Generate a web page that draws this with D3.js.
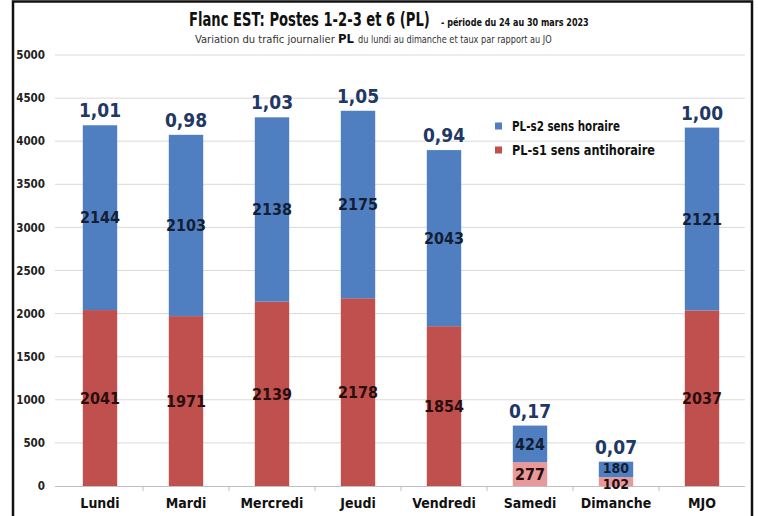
<!DOCTYPE html>
<html><head><meta charset="utf-8">
<script src="https://cdn.jsdelivr.net/npm/d3@7"></script>
<style>
body{margin:0;background:#fff;}
svg{display:block;}
</style></head>
<body>
<svg id="c" width="758" height="516"></svg>
<script>
const categories = ["Lundi","Mardi","Mercredi","Jeudi","Vendredi","Samedi","Dimanche","MJO"];
const s1Values = [2041,1971,2139,2178,1854,277,102,2037];   // PL-s1 sens antihoraire
const s2Values = [2144,2103,2138,2175,2043,424,180,2121];   // PL-s2 sens horaire
const ratioLabels = ["1,01","0,98","1,03","1,05","0,94","0,17","0,07","1,00"];
const yTicks = [0,500,1000,1500,2000,2500,3000,3500,4000,4500,5000];
const weekendCats = ["Samedi","Dimanche"];

const svg = d3.select("#c");
const F = "'DejaVu Sans Condensed','Liberation Sans Narrow',sans-serif";
const blue = "#4f7fc1", red = "#c0504d", lightRed = "#e79a99";

// frame
svg.append("rect").attr("x",13).attr("y",1.5).attr("width",739).attr("height",530)
  .attr("fill","none").attr("stroke","#111").attr("stroke-width",2.5);

const x = d3.scaleBand().domain(categories).range([57,745]).paddingInner(0.6).paddingOuter(0.3);
const y = d3.scaleLinear().domain([0,5000]).range([486,55]);

// gridlines
svg.append("g").selectAll("line").data(yTicks.filter(d=>d>0)).join("line")
  .attr("x1",55).attr("x2",745).attr("y1",d=>y(d)).attr("y2",d=>y(d))
  .attr("stroke","#d9d9d9").attr("stroke-width",1);

// y axis labels
const yAxis = d3.axisLeft(y).tickValues(yTicks).tickFormat(d3.format("d")).tickSize(0).tickPadding(0);
const gy = svg.append("g").attr("transform","translate(45,0)").call(yAxis);
gy.select(".domain").remove();
gy.selectAll("text").attr("font-family",F).attr("font-size",11.5).attr("font-weight","bold").attr("fill","#222");

// x axis
const gx = svg.append("g").attr("transform","translate(0,486)")
  .call(d3.axisBottom(x).tickSize(0).tickPadding(12));
gx.select(".domain").attr("stroke","#bfbfbf").attr("d","M55,0.5H745");
gx.selectAll("text").attr("font-family",F).attr("font-size",14).attr("font-weight","bold").attr("fill","#111");
// boundary ticks
const step = x.step();
const bounds = d3.range(1,categories.length).map(i=>x(categories[i]) - x.paddingInner()*step/2);
svg.append("g").selectAll("line").data(bounds).join("line")
  .attr("x1",d=>d).attr("x2",d=>d).attr("y1",486).attr("y2",491).attr("stroke","#bfbfbf");

const data = categories.map((c,i)=>({c, s1:s1Values[i], s2:s2Values[i], r:ratioLabels[i]}));

// bars
const g = svg.append("g");
g.selectAll("rect.s1").data(data).join("rect").attr("class","s1")
  .attr("x",d=>x(d.c)).attr("width",x.bandwidth())
  .attr("y",d=>y(d.s1)).attr("height",d=>y(0)-y(d.s1))
  .attr("fill",d=>weekendCats.includes(d.c)?lightRed:red);
g.selectAll("rect.s2").data(data).join("rect").attr("class","s2")
  .attr("x",d=>x(d.c)).attr("width",x.bandwidth())
  .attr("y",d=>y(d.s1+d.s2)).attr("height",d=>y(d.s1)-y(d.s1+d.s2))
  .attr("fill",blue);

// value labels (small segments: nudge apart slightly as the reference does)
const cx = d=>x(d.c)+x.bandwidth()/2;
const small = d=>d.s1+d.s2<400;
g.selectAll("text.v2").data(data).join("text")
  .attr("x",cx).attr("y",d=>(y(d.s1)+y(d.s1+d.s2))/2 - (small(d)?1:0)).attr("dy","0.36em")
  .attr("text-anchor","middle").attr("font-family",F).attr("font-size",d=>small(d)?14:16).attr("font-weight","bold")
  .attr("fill","#141e33").text(d=>d.s2);
g.selectAll("text.v1").data(data).join("text")
  .attr("x",cx).attr("y",d=>(y(0)+y(d.s1))/2 + (small(d)?2:0)).attr("dy","0.36em")
  .attr("text-anchor","middle").attr("font-family",F).attr("font-size",d=>small(d)?14:16).attr("font-weight","bold")
  .attr("fill","#2a0d0d").text(d=>d.s1);
// ratio labels
g.selectAll("text.r").data(data).join("text")
  .attr("x",cx).attr("y",d=>y(d.s1+d.s2)-8)
  .attr("text-anchor","middle").attr("font-family",F).attr("font-size",19).attr("font-weight","bold")
  .attr("fill","#1f3864").text(d=>d.r);

// legend
const leg = [{t:"PL-s2 sens horaire",c:blue,w:108},{t:"PL-s1 sens antihoraire",c:red,w:143}];
const lg = svg.append("g").selectAll("g").data(leg).join("g")
  .attr("transform",(d,i)=>`translate(495,${126+i*24})`);
lg.append("rect").attr("x",0).attr("y",-3.5).attr("width",7).attr("height",7).attr("fill",d=>d.c);
lg.append("text").attr("x",17).attr("y",0).attr("dy","0.36em").attr("font-family",F)
  .attr("font-size",14).attr("font-weight","bold").attr("fill","#111")
  .attr("textLength",d=>d.w).attr("lengthAdjust","spacingAndGlyphs").text(d=>d.t);

// titles: horizontally scaled to the reference widths
function fitText(txt, x0, y0, w, size, weight, fill){
  const t = svg.append("text").attr("x",0).attr("y",0).attr("font-family",F)
    .attr("font-size",size).attr("font-weight",weight).attr("fill",fill).text(txt);
  const nat = t.node().getComputedTextLength();
  t.attr("transform",`translate(${x0},${y0}) scale(${w/nat},1)`);
}
fitText("Flanc EST: Postes 1-2-3 et 6 (PL)",189,26,241,20,600,"#111");
fitText("- période du 24 au 30 mars 2023",441,26,148,11,"bold","#111");
fitText("Variation du trafic journalier",195,43,140,11,"normal","#333");
fitText("PL",338,43,16,13,"bold","#111");
fitText("du lundi au dimanche et taux par rapport au JO",358,43,194,11,"normal","#333");
</script>
</body></html>
